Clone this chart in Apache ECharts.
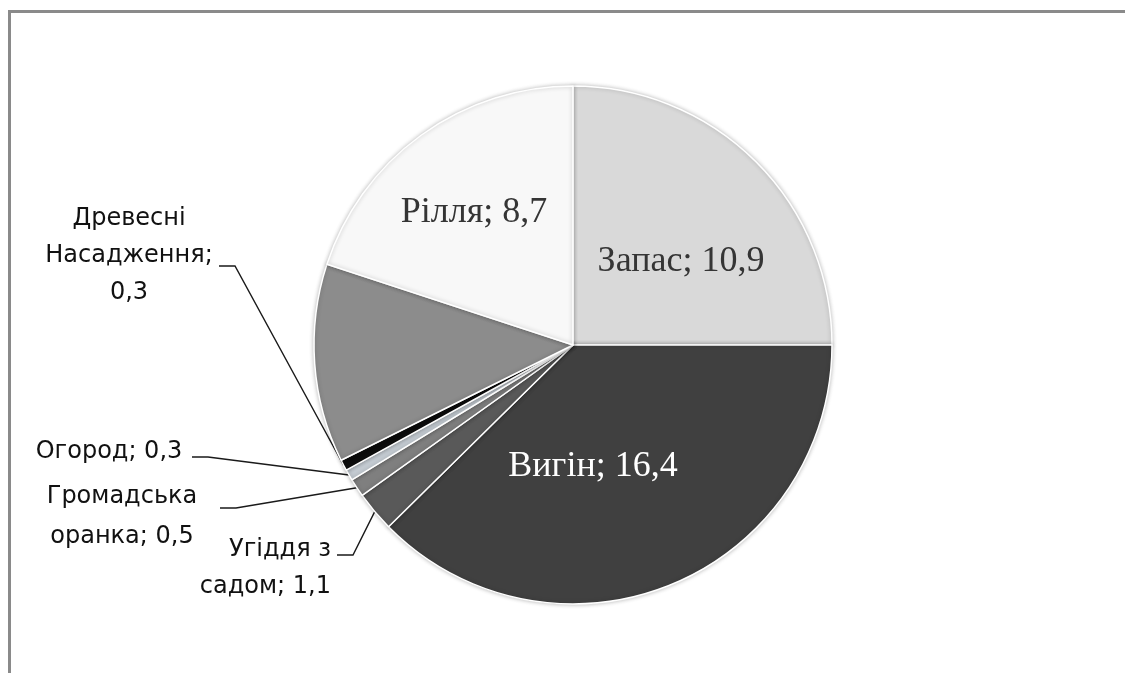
<!DOCTYPE html>
<html>
<head>
<meta charset="utf-8">
<script src="https://cdn.jsdelivr.net/npm/echarts@6/dist/echarts.min.js"></script>
<style>
html,body{margin:0;padding:0;background:#fff;}
#chart{width:1125px;height:673px;}
</style>
</head>
<body>
<div id="chart"></div>
<script>
// Data (clockwise from 12 o'clock)
const categories = ['Запас', 'Вигін', 'Угіддя з\nсадом', 'Громадська\nоранка', 'Огород', 'Древесні\nНасадження', 'Інше', 'Рілля'];
const values = [10.9, 16.4, 1.1, 0.5, 0.3, 0.3, 5.4, 8.7];
const valueOnNewLine = [false, false, false, false, false, true, false, false];
const showLabel = [true, true, true, true, true, true, false, true];
const colors = ['#d9d9d9', '#404040', '#595959', '#7f7f7f', '#c5ccd3', '#0d0d0d', '#8c8c8c', '#f8f8f8'];

// Label placement (layout only)
const innerIdx = [0, 1, 7];
const labelPos = {
  0: {x: 681, y: 262, align: 'center'},
  1: {x: 593, y: 467, align: 'center'},
  2: {x: 331, y: 568, align: 'right', ax: 337, ay: 555},
  3: {x: 122, y: 517, align: 'center', ax: 220, ay: 508},
  4: {x: 109, y: 452, align: 'center', ax: 192, ay: 457},
  5: {x: 129, y: 256, align: 'center', ax: 219, ay: 266}
  ,7: {x: 474, y: 213, align: 'center'}
};

function fmt(v) { return String(v).replace('.', ','); }

const chart = echarts.init(document.getElementById('chart'), null, {renderer: 'canvas'});

const data = categories.map((c, i) => {
  const inner = innerIdx.indexOf(i) >= 0;
  const item = {
    name: c,
    value: values[i],
    itemStyle: {color: colors[i]},
    label: {show: showLabel[i]},
    labelLine: {show: showLabel[i] && !inner}
  };
  if (inner) {
    item.label = {
      show: true,
      position: 'inside',
      fontFamily: 'Liberation Serif',
      fontSize: 36,
      color: i === 1 ? '#ffffff' : '#353535'
    };
  } else if (showLabel[i]) {
    item.label = {
      show: true,
      position: 'outside',
      fontFamily: 'DejaVu Sans',
      fontSize: 24,
      color: '#111111',
      align: labelPos[i].align,
      lineHeight: i === 3 ? 40 : 37
    };
  }
  return item;
});

chart.setOption({
  backgroundColor: '#ffffff',
  animation: false,
  graphic: [{
    type: 'rect',
    shape: {x: 9.5, y: 11.5, width: 1300, height: 900},
    style: {fill: 'none', stroke: '#8a8a8a', lineWidth: 3},
    silent: true
  }],
  series: [{
    type: 'pie',
    center: [573, 345],
    radius: 259,
    startAngle: 90,
    clockwise: true,
    avoidLabelOverlap: false,
    minAngle: 0,
    itemStyle: {
      borderColor: '#ffffff',
      borderWidth: 1.5,
      shadowBlur: 4,
      shadowColor: 'rgba(0,0,0,0.25)'
    },
    label: {
      formatter: function (p) {
        const i = p.dataIndex;
        return p.name + ';' + (valueOnNewLine[i] ? '\n' : ' ') + fmt(values[i]);
      }
    },
    labelLine: {
      lineStyle: {color: '#1a1a1a', width: 1.4},
      length: 10,
      length2: 10
    },
    labelLayout: function (params) {
      const i = params.dataIndex;
      const lp = labelPos[i];
      if (!lp) return {};
      const res = {x: lp.x, y: lp.y, align: lp.align, verticalAlign: 'middle'};
      if (lp.ax !== undefined && params.labelLinePoints && params.labelLinePoints.length) {
        const start = params.labelLinePoints[0];
        res.labelLinePoints = [start, [lp.ax + 16, lp.ay], [lp.ax, lp.ay]];
      }
      return res;
    },
    data: data
  }]
});
</script>
</body>
</html>
